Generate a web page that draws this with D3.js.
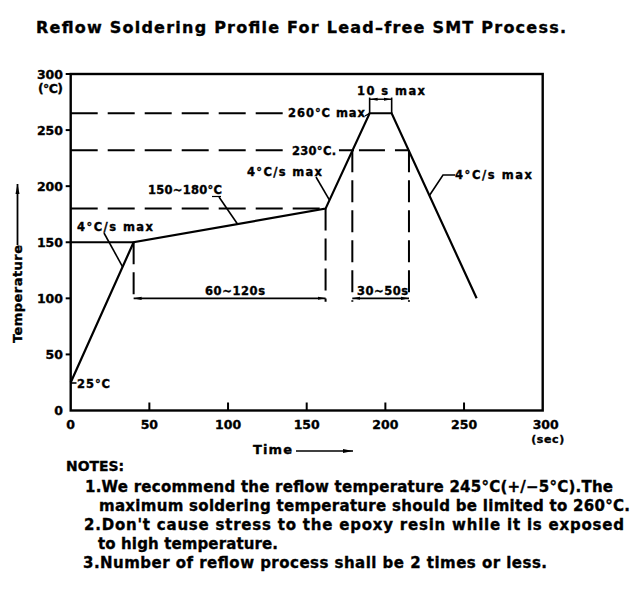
<!DOCTYPE html>
<html>
<head>
<meta charset="utf-8">
<script src="https://cdn.jsdelivr.net/npm/d3@7"></script>
<style>body{margin:0;background:#fff}</style>
</head>
<body>
<div id="chart"></div>
<script>
// profile vertices (sec, degC)
var times = [0, 40, 162, 190, 204, 258];
var temps = [25, 150, 180, 265, 265, 100];
var xTicks = [0, 50, 100, 150, 200, 250, 300];
var yTicks = [0, 50, 100, 150, 200, 250, 300];
var soakSpan = [40, 162];
var liquidSpan = [179, 215];
var peakSpan = [190, 204];
var soakLow = 150, soakHigh = 180, liquidus = 232, peakTemp = 265, dimTemp = 100;
var notes = [
	"1.We recommend the reflow temperature 245\u00b0C(+/\u22125\u00b0C).The",
	"maximum soldering temperature should be limited to 260\u00b0C.",
	"2.Don't cause stress to the epoxy resin while it  is exposed",
	"to high temperature.",
	"3.Number of reflow process shall be 2 times or less."
];

var svg = d3.select("#chart")
	.append("svg")
	.attr("width", 636)
	.attr("height", 590);

var x = d3.scaleLinear().domain([0, 300]).range([70.7, 542.7]);
var y = d3.scaleLinear().domain([0, 300]).range([410.5, 74]);

var defs = svg.append("defs");
defs.append("marker").attr("id", "arr")
	.attr("viewBox", "0 -3 8 6").attr("refX", 8).attr("refY", 0)
	.attr("markerWidth", 8).attr("markerHeight", 6).attr("markerUnits", "userSpaceOnUse")
	.attr("orient", "auto-start-reverse")
	.append("path").attr("d", "M0,-1.6L8,0L0,1.6").attr("fill", "black");
defs.append("marker").attr("id", "big")
	.attr("viewBox", "0 -3 10 6").attr("refX", 10).attr("refY", 0)
	.attr("markerWidth", 10).attr("markerHeight", 6).attr("markerUnits", "userSpaceOnUse")
	.attr("orient", "auto")
	.append("path").attr("d", "M0,-2L10,0L0,2Z").attr("fill", "black");

function label(str, px, py, size, len, anchor) {
	var t = svg.append("text")
		.attr("x", px)
		.attr("y", py)
		.text(str)
		.attr("font-family", "DejaVu Sans")
		.attr("font-weight", "bold")
		.attr("font-size", size + "px")
		.attr("stroke", "black")
		.attr("stroke-width", 0.35);
	if (anchor) t.attr("text-anchor", anchor);
	if (len) t.attr("textLength", len).attr("lengthAdjust", "spacing");
	return t;
}
function seg(x1, y1, x2, y2, w, dash) {
	var l = svg.append("line")
		.attr("x1", x1).attr("y1", y1).attr("x2", x2).attr("y2", y2)
		.attr("stroke", "black")
		.attr("stroke-width", w || 1.6);
	if (dash) l.attr("stroke-dasharray", dash);
	return l;
}
var hDash = "27,10", vDash = "22,8";

// title
label("Reflow Soldering Profile For Lead\u2013free SMT Process.", 36, 33, 16, 530);

// frame + ticks
svg.append("rect")
	.attr("x", x(0)).attr("y", y(300))
	.attr("width", x(300) - x(0)).attr("height", y(0) - y(300))
	.attr("fill", "none").attr("stroke", "black").attr("stroke-width", 2.4);

yTicks.forEach(function (v) {
	if (v > 0) seg(x(0) - 5, y(v), x(0), y(v), 2);
	label(String(v), 63, y(v) + 4.5, 12.5, null, "end");
});
xTicks.forEach(function (t) {
	if (t > 0 && t < 300) seg(x(t), y(0), x(t), y(0) - 8, 2);
	label(String(t), x(t) + (t == 300 ? 3 : 0), 429, 12.5, null, "middle");
});
label("(\u00b0C)", 63, 93, 12.5, 25, "end");
label("(sec)", x(300) + 5, 442.5, 11, 33, "middle");

// axis titles
label("Temperature", 0, 0, 13, 98)
	.attr("transform", "translate(22,343) rotate(-90)");
seg(17.5, 245, 17.5, 184, 1.8).attr("marker-end", "url(#big)");
label("Time", 253, 454, 13, 39);
seg(296, 451, 353, 451, 1.4).attr("marker-end", "url(#big)");

// guide lines
seg(x(0), y(peakTemp), x(138), y(peakTemp), 2, hDash);
seg(x(0), y(liquidus), x(140), y(liquidus), 2, hDash);
seg(x(170.5), y(liquidus), x(liquidSpan[1]), y(liquidus), 2, "15,5,26,10,15");
seg(x(0), y(soakHigh), x(soakSpan[1]), y(soakHigh), 2, hDash);
seg(x(0), y(soakLow), x(soakSpan[0]), y(soakLow), 2);

[soakSpan[0], soakSpan[1]].forEach(function (t, i) {
	seg(x(t), y(i ? soakHigh : soakLow), x(t), y(dimTemp - 3), 2, vDash);
});
liquidSpan.forEach(function (t) {
	seg(x(t), y(liquidus), x(t), y(dimTemp - 3), 2, vDash);
});

// dimension lines
seg(x(soakSpan[0]), y(dimTemp), x(soakSpan[1]), y(dimTemp), 1.6)
	.attr("marker-start", "url(#arr)").attr("marker-end", "url(#arr)");
seg(x(liquidSpan[0]), y(dimTemp), x(liquidSpan[1]), y(dimTemp), 1.6)
	.attr("marker-start", "url(#arr)").attr("marker-end", "url(#arr)");
peakSpan.forEach(function (t) {
	seg(x(t), y(peakTemp), x(t), y(279), 1.6);
});
seg(x(peakSpan[0]), y(277.5), x(peakSpan[1]), y(277.5), 1.4)
	.attr("marker-start", "url(#arr)").attr("marker-end", "url(#arr)");

// profile
var line = d3.line()
	.x(function (d) { return x(d[0]); })
	.y(function (d) { return y(d[1]); });
svg.append("path")
	.datum(d3.zip(times, temps))
	.attr("d", line)
	.attr("fill", "none")
	.attr("stroke", "black")
	.attr("stroke-width", 2.2)
	.attr("stroke-linejoin", "miter");

function onProfile(t) {
	var i = d3.bisectRight(times, t) - 1;
	var f = (t - times[i]) / (times[i + 1] - times[i]);
	return [x(t), y(temps[i] + f * (temps[i + 1] - temps[i]))];
}

// annotations
var p;
label("4\u00b0C/s  max", 77, 230.5, 11.5, 76);
p = onProfile(33); seg(104, 233, p[0], p[1], 1.6);

label("150~180\u00b0C", 148, 193.5, 11.5, 74);
seg(212, 196.5, 221, 196.5, 1.2);
p = onProfile(106); seg(219, 197, p[0], p[1], 1.6);

label("4\u00b0C/s  max", 247, 175.5, 11.5, 75);
p = onProfile(164.5); seg(316, 177, p[0], p[1], 1.6);

label("4\u00b0C/s  max", 455, 178.5, 11.5, 77);
p = onProfile(228);
svg.append("path")
	.attr("d", "M455,175L443,175L" + p[0] + "," + p[1])
	.attr("fill", "none").attr("stroke", "black").attr("stroke-width", 1.6);

label("260\u00b0C  max", 288, 117, 11.5, 77);
seg(365, 116, x(peakSpan[0]), y(peakTemp), 1.4);
label("230\u00b0C.", 292, 154.5, 11.5, 44);
label("10  s  max", 357, 95, 11.5, 68);

label("60~120s", 205, 295, 11.5, 60);
label("30~50s", 357, 294.5, 11.5, 51);

seg(71, 383, 76.5, 383, 1.6);
label("25\u00b0C", 77, 387.5, 11.5, 33);

// notes
label("NOTES:", 66, 471, 14, 58).attr("lengthAdjust", "spacingAndGlyphs");
var nx = [85, 99, 84, 98, 83];
var nw = [528, 531, 540, 180, 464];
notes.forEach(function (s, i) {
	label(s, nx[i], 491.5 + i * 19.2, 15, nw[i]);
});
</script>
</body>
</html>
